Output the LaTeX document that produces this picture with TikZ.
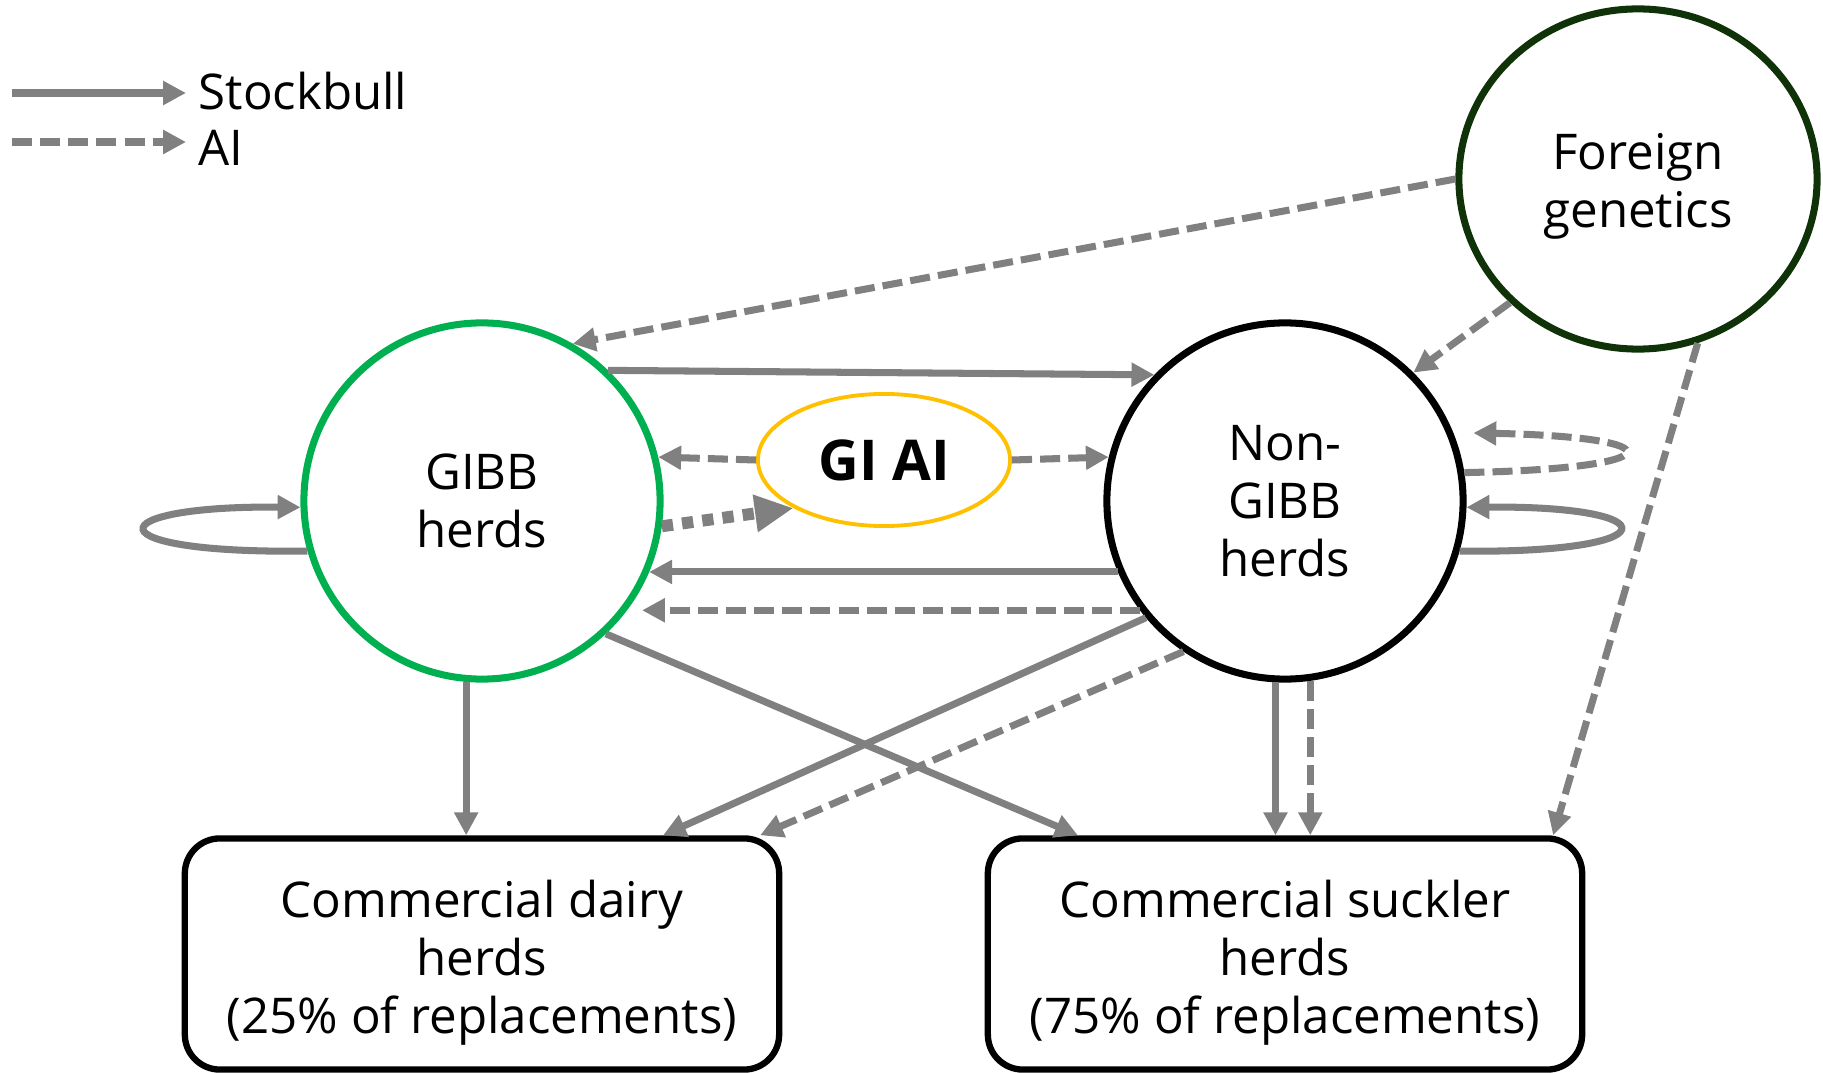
\documentclass[tikz,border=0pt]{standalone}
\usepackage{fontspec}
\setmainfont{Open Sans}
\usetikzlibrary{shapes.geometric, arrows.meta}
\definecolor{linkgray}{RGB}{128,128,128}
\definecolor{gibbgreen}{RGB}{0,176,80}
\definecolor{foreigngreen}{RGB}{16,50,8}
\definecolor{aiyellow}{RGB}{255,192,0}
\newcommand{\toppad}[1]{\rule{0pt}{#1}} % extra room above the first line
\tikzset{
herd/.style={circle, draw, line width=2pt, minimum size=3.56cm, inner sep=0pt, align=center, font=\fontsize{14}{16.5}\selectfont}, % the two breeder groups
foreign/.style={ellipse, draw=foreigngreen, line width=2pt, minimum width=3.58cm, minimum height=3.40cm, inner sep=0pt, align=center, font=\fontsize{14}{16.5}\selectfont}, % imported genetics
giai/.style={ellipse, draw=aiyellow, line width=1.1pt, minimum width=2.52cm, minimum height=1.32cm, inner sep=0pt, font=\fontsize{16}{18}\selectfont\bfseries}, % AI centre
market/.style={rectangle, rounded corners=0.35cm, draw, line width=1.8pt, minimum width=5.94cm, minimum height=2.31cm, align=center, font=\fontsize{14}{16.5}\selectfont}, % commercial herds
legend/.style={anchor=base west, inner sep=0pt, font=\fontsize{14}{16.5}\selectfont}, % legend texts
bull/.style={-{Triangle[length=6.5pt,width=6.5pt]}, draw=linkgray, line width=2pt}, % stockbull flow
ai/.style={bull, dash pattern=on 5.7pt off 2.3pt}, % AI flow
gisemen/.style={-{Triangle[length=11pt,width=10pt]}, draw=linkgray, line width=3.4pt, dash pattern=on 3.2pt off 2.6pt}, % bulls sent to GI AI
}

\begin{document}
\begin{tikzpicture}[x=0.01cm, y=-0.01cm]
    \useasboundingbox (0,0) rectangle (1823,1073);
    % legend
    \node[legend] (lgbull) at (198,110) {Stockbull};
    \node[legend] (lgai) at (198,166) {AI};
    \coordinate (lgbullfrom) at (12,93);
    \coordinate (lgbullto) at (186,93);
    \coordinate (lgaifrom) at (12,142);
    \coordinate (lgaito) at (186,142);
    \draw[bull] (lgbullfrom) -- (lgbullto);
    \draw[ai] (lgaifrom) -- (lgaito);
    % herds
    \node[herd, draw=gibbgreen] (gibb) at (482,501) {GIBB\\herds};
    \node[herd] (nongibb) at (1285,501) {Non-\\GIBB\\herds};
    \node[foreign] (foreign) at (1638,179) {\toppad{14.6pt}Foreign\\genetics};
    \node[giai] (giai) at (884,460) {GI AI};
    \node[market] (dairy) at (482,954) {\toppad{15.7pt}Commercial dairy\\herds\\(25\% of replacements)};
    \node[market] (suckler) at (1285,954) {\toppad{15.7pt}Commercial suckler\\herds\\(75\% of replacements)};
    % flows
    \draw
    (foreign.west) edge[ai] (gibb.60)
    (foreign.224) edge[ai] (nongibb.45)
    (foreign.-70) edge[ai] ([xshift=2.68cm]suckler.north)
    (gibb.46) edge[bull] (nongibb.136)
    (giai.west) edge[ai] (gibb.14)
    (giai.east) edge[ai] (nongibb.166)
    (gibb.-8) edge[gisemen] (giai.208)
    (nongibb.203) edge[bull] (gibb.-23)
    (nongibb.217) edge[ai] ([xshift=0.15cm]gibb.-37)
    (gibb.-95) edge[bull] (gibb.-95 |- dairy.north)
    (gibb.-47) edge[bull] ([xshift=-2.07cm]suckler.north)
    (nongibb.220) edge[bull] ([xshift=1.81cm]dairy.north)
    (nongibb.236) edge[ai] ([xshift=2.78cm]dairy.north)
    (nongibb.-93) edge[bull] (nongibb.-93 |- suckler.north)
    (nongibb.-82) edge[ai] (nongibb.-82 |- suckler.north);
    % loops
    \draw[bull] (gibb.196) .. controls +(-218,3) and +(-204,-2) .. (gibb.182);
    \draw[bull] (nongibb.-16) .. controls +(211,3) and +(205,-2) .. (nongibb.-2);
    \draw[ai] (nongibb.9) .. controls +(211,-4) and +(203,4) .. ([xshift=0.2cm]nongibb.22);
\end{tikzpicture}
\end{document}
